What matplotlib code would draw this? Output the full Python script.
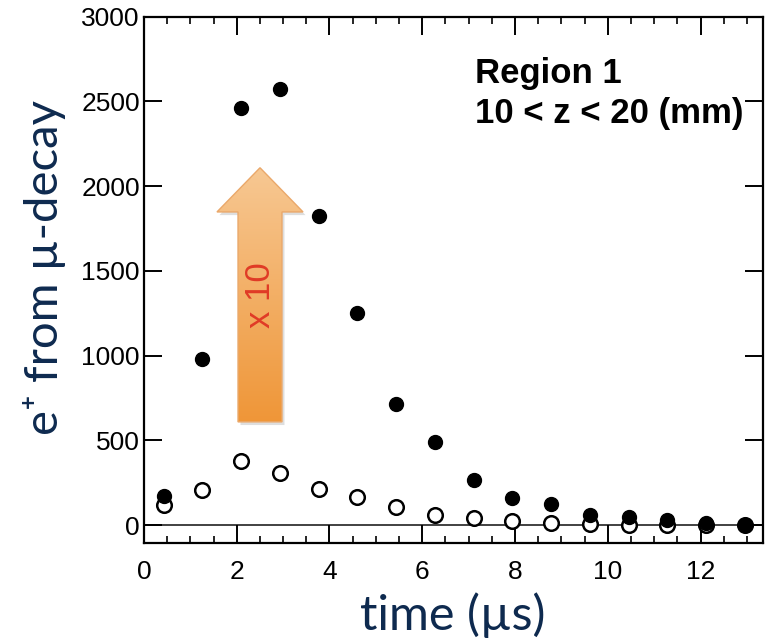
import numpy as np
import matplotlib.pyplot as plt
from matplotlib.path import Path
from matplotlib.patches import PathPatch
from matplotlib.ticker import MultipleLocator
from matplotlib.colors import LinearSegmentedColormap

# time bins (microseconds)
time_us = [0.43, 1.26, 2.09, 2.93, 3.77, 4.60, 5.44, 6.27, 7.11, 7.94,
           8.78, 9.61, 10.45, 11.28, 12.12, 12.95]

# filled circles (x10 sample)
filled = [173, 982, 2463, 2572, 1827, 1250, 714, 490, 266, 161,
          127, 62, 48, 30, 14, 2]
filled_err = [10, 20, 40, 35, 25, 20, 15, 12, 10, 8, 7, 5, 5, 4, 3, 2]

# open circles
hollow = [117, 210, 379, 305, 214, 167, 105, 58, 44, 22,
          14, 8, 3, 0, -2, -2]

plt.rcParams['font.family'] = ['Liberation Sans', 'DejaVu Sans']

fig = plt.figure(figsize=(7.74, 6.44), dpi=100)
ax = fig.add_axes([0.186, 0.157, 0.800, 0.817])

ax.axhline(0, color='#333333', lw=1.3, zorder=1)

ax.errorbar(time_us, filled, yerr=filled_err, fmt='o', color='black',
            ms=10, elinewidth=1.2, capsize=0, zorder=4)
ax.plot(time_us, hollow, 'o', mfc='white', mec='black', mew=1.8,
        ms=10.5, zorder=3)

ax.set_xlim(0, 13.35)
ax.set_ylim(-105, 3000)

ax.xaxis.set_major_locator(MultipleLocator(2))
ax.xaxis.set_minor_locator(MultipleLocator(0.5))
ax.yaxis.set_major_locator(MultipleLocator(500))

ax.tick_params(axis='both', which='major', direction='in', length=13,
               width=1.4, labelsize=19, top=True, right=True)
ax.tick_params(axis='x', which='major', pad=12)
ax.tick_params(axis='y', which='major', pad=3)
ax.tick_params(axis='x', which='minor', direction='in', length=5,
               width=1.2, top=True)
ax.tick_params(axis='y', which='minor', left=False, right=False)
for sp in ax.spines.values():
    sp.set_linewidth(1.6)

ax.text(0.5347, 0.7985, 'Region 1\n10 < z < 20 (mm)', transform=ax.transAxes,
        fontsize=25, fontweight='bold', va='baseline', ha='left',
        linespacing=1.25)

# big orange arrow (x10 scaling annotation), gradient fill
cx, sh, hh = 0.1874, 0.0355, 0.0695
y0, yb, yt = 0.23, 0.629, 0.713
verts = [(cx - sh, y0), (cx + sh, y0), (cx + sh, yb), (cx + hh, yb),
         (cx, yt), (cx - hh, yb), (cx - sh, yb), (cx - sh, y0), (cx - sh, y0)]
codes = [Path.MOVETO] + [Path.LINETO] * 7 + [Path.CLOSEPOLY]
arrow_path = Path(verts, codes)
shadow = PathPatch(Path([(x + 0.004, y - 0.006) for x, y in verts], codes),
                   transform=ax.transAxes, fc='#dedede', ec='none', zorder=1.5)
ax.add_patch(shadow)
patch = PathPatch(arrow_path, transform=ax.transAxes, fc='none',
                  ec='#eaa86a', lw=1.0, zorder=2.5)
ax.add_patch(patch)
grad = np.linspace(0, 1, 256).reshape(-1, 1)
cmap = LinearSegmentedColormap.from_list('arr', ['#ef9638', '#f7c893'])
im = ax.imshow(grad, cmap=cmap, origin='lower', aspect='auto',
               extent=[cx - hh, cx + hh, y0, yt], transform=ax.transAxes,
               zorder=2)
im.set_clip_path(patch)

ax.text(cx, 0.47, 'x 10', transform=ax.transAxes, rotation=90,
        color='#e03b26', fontsize=25, ha='center', va='center', zorder=3)

navy = '#0e2a4f'
fig.text(0.058, 0.585, 'e⁺ from µ-decay', rotation=90, color=navy,
         fontsize=34, family=['Lato', 'DejaVu Sans'], ha='center', va='center')
fig.text(0.585, 0.045, 'time (µs)', color=navy, fontsize=35,
         family=['Lato', 'DejaVu Sans'], ha='center', va='center')

fig.savefig('out.png', dpi=100)
